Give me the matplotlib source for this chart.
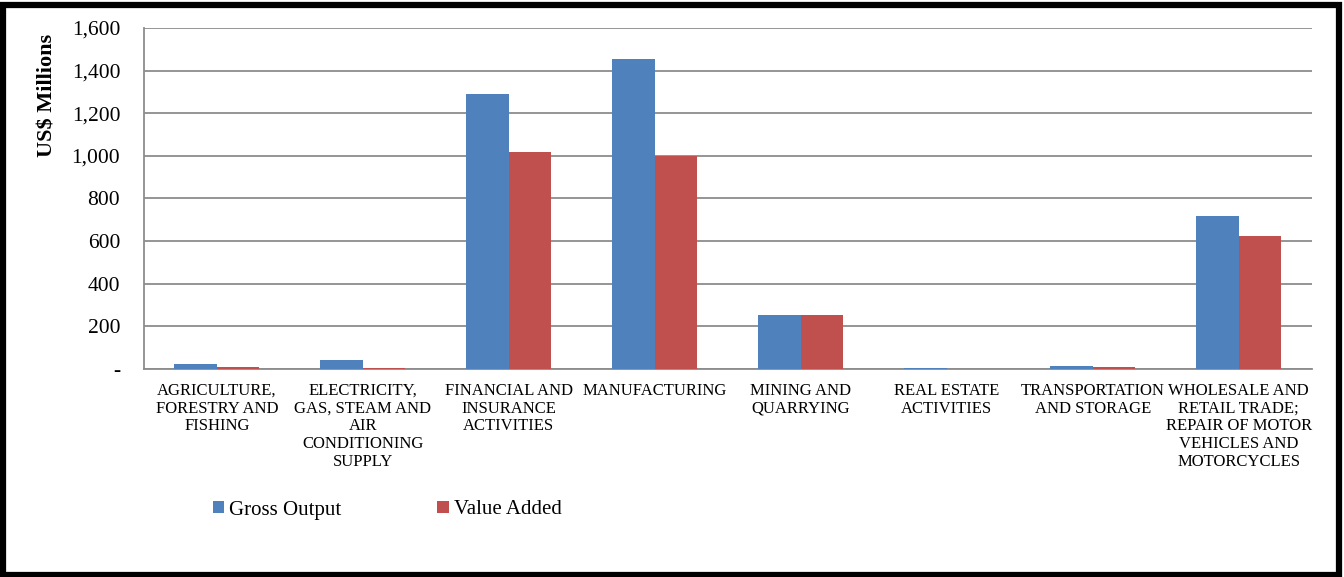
import matplotlib as mpl
mpl.use('Agg')
import matplotlib.pyplot as plt
import numpy as np
from matplotlib.patches import Rectangle
from matplotlib.ticker import FuncFormatter

plt.rcParams['font.family'] = ['Liberation Serif', 'DejaVu Serif']

sectors = [
    "AGRICULTURE,\nFORESTRY AND\nFISHING",
    "ELECTRICITY,\nGAS, STEAM AND\nAIR\nCONDITIONING\nSUPPLY",
    "FINANCIAL AND\nINSURANCE\nACTIVITIES",
    "MANUFACTURING",
    "MINING AND\nQUARRYING",
    "REAL ESTATE\nACTIVITIES",
    "TRANSPORTATION\nAND STORAGE",
    "WHOLESALE AND\nRETAIL TRADE;\nREPAIR OF MOTOR\nVEHICLES AND\nMOTORCYCLES",
]
gross_output = [23, 40, 1288, 1455, 253, 6, 12, 718]
value_added = [10, 3, 1018, 1000, 253, 2, 9, 625]

fig = plt.figure(figsize=(13.44, 5.77), dpi=100)
ax = fig.add_axes([0.107, 0.3605, 0.869, 0.591])

x = np.arange(len(sectors))
w = 0.29
ax.bar(x - w/2, gross_output, w, color='#4F81BD', label='Gross Output', zorder=3)
ax.bar(x + w/2, value_added, w, color='#C0504D', label='Value Added', zorder=3)

ax.set_xlim(-0.5, len(sectors) - 0.5)
ax.set_ylim(0, 1600)
ax.set_yticks(range(0, 1601, 200))
ax.yaxis.set_major_formatter(FuncFormatter(lambda v, p: '-' if v == 0 else f'{int(v):,}'))
ax.tick_params(axis='y', length=0, pad=17, labelsize=15.5)
ax.set_xticks(x)
ax.set_xticklabels(sectors, fontsize=12, linespacing=1.15)
ax.tick_params(axis='x', length=0, pad=10)
ax.grid(axis='y', color='#8c8c8c', linewidth=1.3, zorder=0)
for s in ['top', 'right']:
    ax.spines[s].set_visible(False)
for s in ['left', 'bottom']:
    ax.spines[s].set_color('#8c8c8c')
    ax.spines[s].set_linewidth(1.3)

# axis title sits up near the top of the value axis
fig.text(47/1344, 1 - 95/577, 'US$ Millions', rotation=90, fontsize=16,
         fontweight='bold', ha='center', va='center')

fig.legend(loc='center left', bbox_to_anchor=(0.152, 1 - 510/577), ncol=2,
           frameon=False, fontsize=15, handlelength=0.55, handleheight=0.55,
           handletextpad=0.25, columnspacing=4.6, borderaxespad=0)

# black frame around the whole figure
fig.patches.append(Rectangle((0.002, 0.004), 0.994, 0.988, transform=fig.transFigure,
                             fill=False, edgecolor='black', linewidth=4.5))

fig.savefig('out.png', dpi=100)
